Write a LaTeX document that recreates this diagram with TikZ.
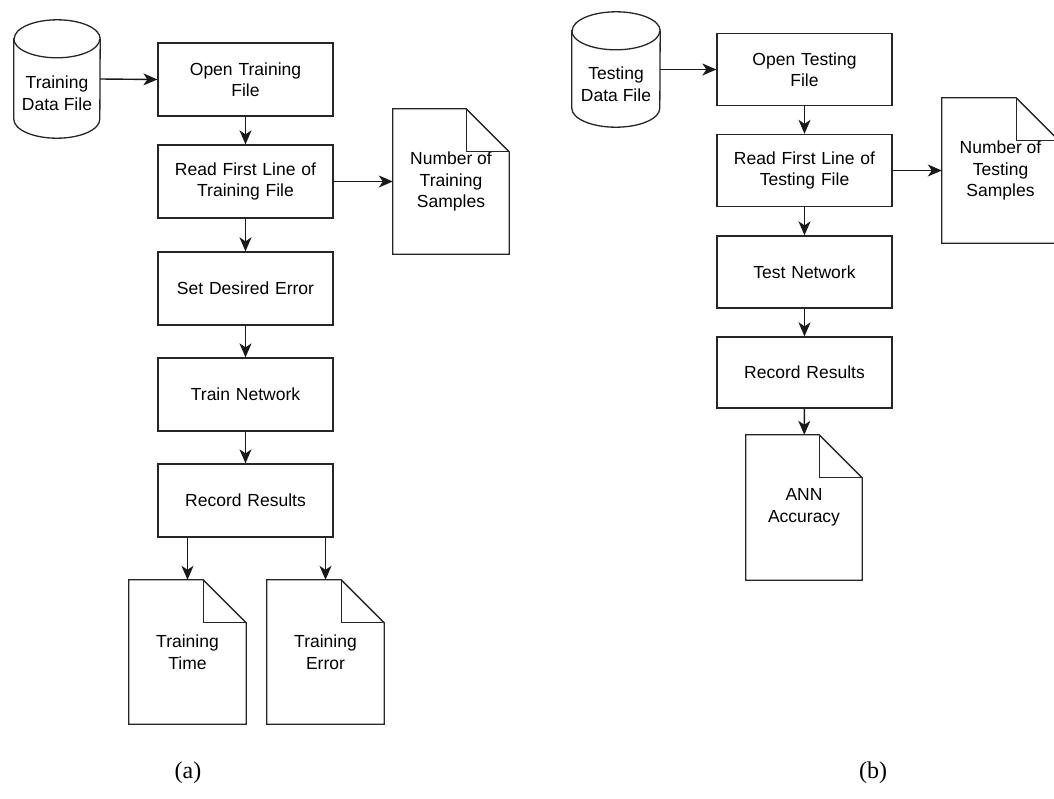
\documentclass[tikz,border=0pt]{standalone}
\usepackage{fontspec}
\setmainfont{Liberation Sans}
\newfontfamily\captionfont{Liberation Serif}
\usetikzlibrary{arrows.meta}

% outline of a document shape with a folded top-right corner
\newcommand\docoutline[1]{%
  \draw[outline] (#1.north west) -- ([xshift=-43pt]#1.north east)
    -- ([yshift=-43pt]#1.north east) -- (#1.south east) -- (#1.south west) -- cycle;
  \draw[outline] ([xshift=-43pt]#1.north east) |- ([yshift=-43pt]#1.north east);
}
% outline of a database cylinder: #1 node, #2 x radius, #3 y radius
\newcommand\cyloutline[3]{%
  \draw[outline] ([yshift=-#3]#1.north west) -- ([yshift=#3]#1.south west)
    arc[start angle=180, end angle=360, x radius=#2, y radius=#3]
    -- ([yshift=-#3]#1.north east)
    arc[start angle=0, end angle=180, x radius=#2, y radius=#3] -- cycle;
  \draw[outline] ([yshift=-#3]#1.north west)
    arc[start angle=180, end angle=360, x radius=#2, y radius=#3];
}

\tikzset{
  outline/.style={draw=black!85, line width=1.3pt, line join=miter},
  stepbox/.style={draw=black!85, line width=1.3pt, rectangle, minimum width=175pt,
    minimum height=73pt, inner sep=0pt, align=center, text width=165pt,
    font=\fontsize{17.5}{21.5}\selectfont},
  docnode/.style={rectangle, inner sep=0pt, minimum width=116pt, minimum height=145pt,
    align=center, font=\fontsize{17.5}{21.5}\selectfont},
  cylnode/.style={rectangle, inner sep=0pt},
  cyltext/.style={align=center, inner sep=0pt, font=\fontsize{17.5}{21.5}\selectfont},
  flow/.style={draw=black!90, line width=1.4pt,
    -{Stealth[length=14pt, width=12pt, inset=4pt]}},
  caption/.style={font=\captionfont\fontsize{24}{28}\selectfont, inner sep=0pt}
}

\begin{document}
\begin{tikzpicture}[x=1pt, y=1pt]
\useasboundingbox (0,0) rectangle (1054,-798);
\clip (0,0) rectangle (1054,-798);

% ---------------- (a) training ----------------
\node[cylnode, minimum width=86pt, minimum height=118pt] (cylA) at (57,-79) {};
\cyloutline{cylA}{43pt}{19pt}
\node[cyltext] (cylAtext) at (57,-93) {Training\\Data File};

\node[stepbox, minimum height=73pt] (openA)  at (245.5,-79.5)  {Open Training\\File};
\node[stepbox] (readA)  at (245.5,-181.5) {Read First Line of\\Training File};
\node[stepbox] (setA)   at (245.5,-288.5) {Set Desired Error};
\node[stepbox] (trainA) at (245.5,-394.5) {Train Network};
\node[stepbox] (recA)   at (245.5,-500.5) {Record Results};

\node[docnode] (numA)  at (451,-181.5)   {Number of\\Training\\Samples};
\node[docnode, minimum width=117pt, minimum height=144pt] (timeA) at (187.5,-652) {Training\\Time};
\node[docnode, minimum width=117pt, minimum height=144pt] (errA)  at (325.5,-652) {Training\\Error};
\docoutline{numA}
\docoutline{timeA}
\docoutline{errA}

\draw[flow] (cylA.east) -- (openA.west);
\draw[flow] (openA) -- (readA);
\draw[flow] (readA.east) -- (numA.west);
\draw[flow] (readA) -- (setA);
\draw[flow] (setA) -- (trainA);
\draw[flow] (trainA) -- (recA);
\draw[flow] (timeA.north |- recA.south) -- (timeA.north);
\draw[flow] (errA.north |- recA.south) -- (errA.north);

\node[caption] (capA) at (188,-773) {(a)};

% ---------------- (b) testing ----------------
\node[cylnode, minimum width=88pt, minimum height=115pt] (cylB) at (616,-69.5) {};
\cyloutline{cylB}{44pt}{19pt}
\node[cyltext] (cylBtext) at (616,-84) {Testing\\Data File};

\node[stepbox, minimum height=72pt] (openB) at (804.5,-69.5)  {Open Testing\\File};
\node[stepbox, minimum height=72pt] (readB) at (804.5,-170.5) {Read First Line of\\Testing File};
\node[stepbox, minimum height=72pt] (testB) at (804.5,-272)   {Test Network};
\node[stepbox, minimum height=71pt] (recB)  at (804.5,-372.5) {Record Results};

\node[docnode, minimum width=117pt] (numB) at (1000.5,-170.5) {Number of\\Testing\\Samples};
\node[docnode] (accB) at (804,-507.5) {ANN\\Accuracy};
\docoutline{numB}
\docoutline{accB}

\draw[flow] (cylB.east) -- (openB.west);
\draw[flow] (openB) -- (readB);
\draw[flow] (readB.east) -- (numB.west);
\draw[flow] (readB) -- (testB);
\draw[flow] (testB) -- (recB);
\draw[flow] (recB) -- (accB);

\node[caption] (capB) at (873,-773) {(b)};
\end{tikzpicture}
\end{document}
